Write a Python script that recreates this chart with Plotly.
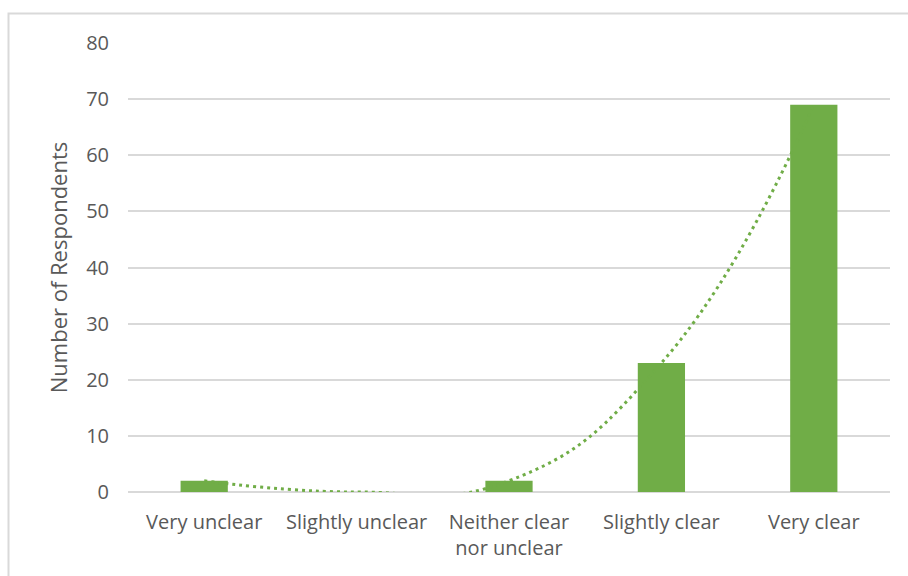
import plotly.graph_objects as go

# Survey responses: how clear respondents found the material
categories = ["Very unclear", "Slightly unclear", "Neither clear<br>nor unclear",
              "Slightly clear", "Very clear"]
respondents = [2, 0, 2, 23, 69]
y_ticks = [0, 10, 20, 30, 40, 50, 60, 70, 80]

GREEN = "#70AD47"
TEXT = "#595959"
GRID = "#D9D9D9"
FONT = "Open Sans"

W, H = 908, 576
L, R, T, B = 128, 18, 43, 84
pw, ph = W - L - R, H - T - B

fig = go.Figure()
fig.add_trace(go.Bar(
    x=categories, y=respondents,
    marker=dict(color=GREEN, line=dict(width=0)),
    width=0.31, showlegend=False, hoverinfo="x+y",
))
# smoothed dotted line through the bar tops
fig.add_trace(go.Scatter(
    x=categories, y=respondents, mode="lines",
    line=dict(color=GREEN, width=3, dash="3px,4px", shape="spline", smoothing=1.3),
    showlegend=False, hoverinfo="skip",
))

# outer chart frame
fig.add_shape(type="rect", xref="paper", yref="paper",
              x0=(8.5 - L) / pw, x1=(W + 5 - L) / pw,
              y0=-(H + 5 - T - ph) / ph, y1=1 + (T - 13.5) / ph,
              line=dict(color="#D9D9D9", width=2), layer="below")

fig.update_layout(
    width=W, height=H,
    margin=dict(l=L, r=R, t=T, b=B),
    paper_bgcolor="white", plot_bgcolor="white",
    font=dict(family=FONT, color=TEXT, size=20),
    bargap=0.69,
    xaxis=dict(
        type="category", showgrid=False, showline=False, zeroline=False,
        ticks="", tickfont=dict(size=20, color=TEXT), ticklabelstandoff=16,
    ),
    yaxis=dict(
        range=[0, 80], tickvals=y_ticks, showgrid=True, gridcolor=GRID, gridwidth=2,
        zeroline=True, zerolinecolor=GRID, zerolinewidth=2, showline=False,
        ticks="", tickfont=dict(size=20, color=TEXT), ticklabelstandoff=18,
        title=dict(text="Number of Respondents", font=dict(size=22, color=TEXT), standoff=12),
    ),
)

fig.write_html("out.html")
